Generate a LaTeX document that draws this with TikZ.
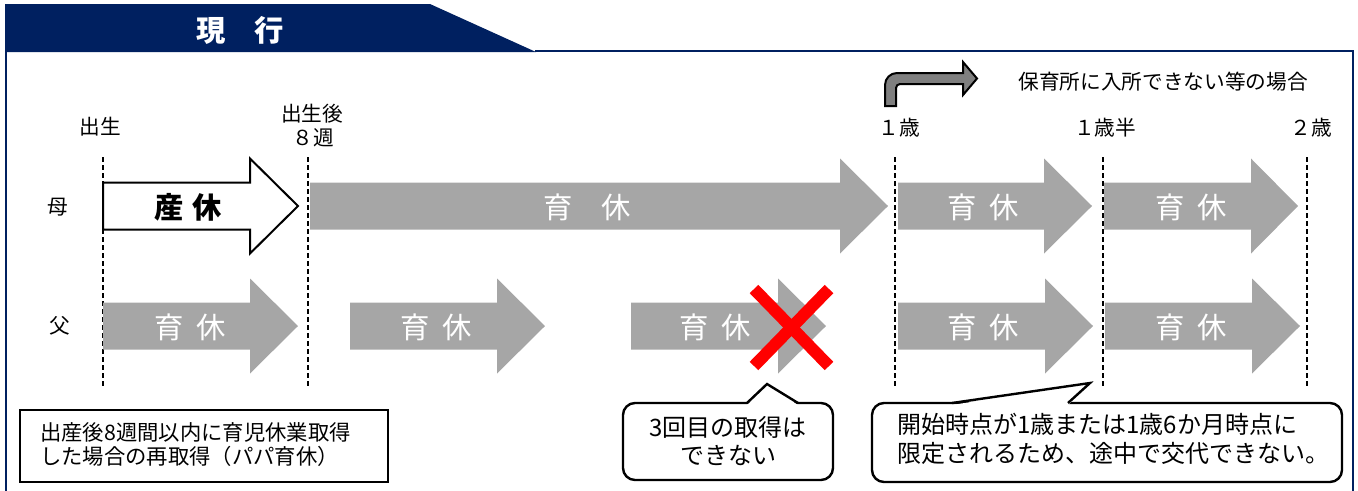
\documentclass[tikz,border=0pt]{standalone}
\usepackage{fontspec}
\setmainfont{Noto Sans CJK JP}
\definecolor{navy}{RGB}{0,32,96}
\definecolor{arrgray}{RGB}{166,166,166}
\definecolor{bentgray}{RGB}{127,127,127}
\newcommand\myarrow[5][]{\path[#1] (#2,#5-23.5) -- (#3,#5-23.5) -- (#3,#5-47.5) -- (#4,#5) -- (#3,#5+47.5) -- (#3,#5+23.5) -- (#2,#5+23.5) -- cycle;}
\begin{document}
\begin{tikzpicture}[x=0.75pt,y=-0.75pt,
  lbl/.style={font=\fontsize{15.5}{18}\selectfont, inner sep=0pt},
  arrtxt/.style={font=\fontsize{22}{26}\selectfont, text=white, inner sep=0pt},
  grayarrow/.style={fill=arrgray},
  vline/.style={dash pattern=on 3.75pt off 2.25pt, line width=0.8pt},
  callout/.style={draw, line width=1.8pt, fill=white, rounded corners=9pt},
  ctext/.style={font=\fontsize{18}{21.5}\selectfont, inner sep=0pt},
  btext/.style={font=\fontsize{16}{18}\selectfont, inner sep=0pt, align=left}
]
\useasboundingbox (0,0) rectangle (1358,490);
% header band and frame
\fill[navy] (5,4) -- (430,4) -- (536,52) -- (5,52) -- cycle;
\draw[navy, line width=1.8pt] (6,50) -- (6,495);
\draw[navy, line width=1.8pt] (535,51) -- (1353,51) -- (1353,495);
\node[font=\fontsize{22}{26}\selectfont\bfseries, text=white, inner sep=0pt] (title) at (240,30) {現　行};

% dashed guide lines
\foreach \xx/\nm in {103/a,308/b,895/c,1103/d,1307/e}{
  \coordinate (top\nm) at (\xx,157);
  \coordinate (bot\nm) at (\xx,386);
  \draw[vline] (top\nm) -- (bot\nm);
}

% time labels
\node[lbl] (birth) at (100,127) {出生};
\node[lbl] (after1) at (312,114) {出生後};
\node[lbl] (after2) at (313,138) {８週};
\node[lbl] (y1) at (899,128) {１歳};
\node[lbl] (y15) at (1105,128) {１歳半};
\node[lbl] (y2) at (1311,128) {２歳};
\node[lbl] (note) at (1163,82) {保育所に入所できない等の場合};
\node[lbl] (mother) at (58,207) {母};
\node[lbl] (father) at (60,326) {父};

% bent arrow
\draw[fill=bentgray, line width=1.5pt, line join=miter]
  (885,106) -- (885,85) arc (180:270:12) -- (963,73) -- (963,62) -- (977,78.5)
  -- (963,95) -- (963,84) -- (900,84) arc (270:180:4) -- (896,106) -- cycle;

% mother row
\myarrow[draw, fill=white, line width=1.5pt]{103}{250}{298}{206}
\myarrow[grayarrow]{310}{840}{888}{206}
\myarrow[grayarrow]{898}{1044}{1092}{206}
\myarrow[grayarrow]{1104}{1251}{1298}{206}
\node[font=\fontsize{22}{26}\selectfont\bfseries, inner sep=0pt] (m1) at (188,207) {産\hspace{0.3em}休};
\node[arrtxt] (m2) at (587,207) {育　休};
\node[arrtxt] (m3) at (983,207) {育\hspace{0.45em}休};
\node[arrtxt] (m4) at (1191,207) {育\hspace{0.45em}休};

% father row
\myarrow[grayarrow]{103}{250}{298}{326}
\myarrow[grayarrow]{350}{497}{545}{326}
\myarrow[grayarrow]{631}{778}{826}{326}
\myarrow[grayarrow]{898}{1045}{1093}{326}
\myarrow[grayarrow]{1105}{1252}{1300}{326}
\node[arrtxt] (f1) at (190,327) {育\hspace{0.45em}休};
\node[arrtxt] (f2) at (436,327) {育\hspace{0.45em}休};
\node[arrtxt] (f3) at (715,327) {育\hspace{0.45em}休};
\node[arrtxt] (f4) at (983,327) {育\hspace{0.45em}休};
\node[arrtxt] (f5) at (1191,327) {育\hspace{0.45em}休};

% red cross
\coordinate (xa) at (754,289);
\coordinate (xb) at (829,366);
\coordinate (xc) at (829,289);
\coordinate (xd) at (754,366);
\draw[red, line width=9pt] (xa) -- (xb);
\draw[red, line width=9pt] (xc) -- (xd);

% bottom-left box
\draw[line width=1.5pt] (20,410) rectangle (388,482);
\node[btext, anchor=west] (box) at (40,444.5) {出産後8週間以内に育児休業取得\\した場合の再取得（パパ育休）};

% callout 1
\path[callout] (623,403) rectangle (833,480);
\coordinate (c1l) at (747,403);
\coordinate (c1t) at (767,384);
\coordinate (c1r) at (798,403);
\fill[white] (747,405) -- (c1t) -- (798,405) -- cycle;
\draw[line width=1.8pt, line join=miter] (c1l) -- (c1t) -- (c1r);
\node[ctext, align=center] (c1) at (728,441) {3回目の取得は\\できない};

% callout 2
\path[callout] (872,403) rectangle (1342,482);
\coordinate (c2l) at (952,403);
\coordinate (c2t) at (1090,383);
\coordinate (c2r) at (1068,403);
\fill[white] (952,405) -- (c2t) -- (1068,405) -- cycle;
\draw[line width=1.8pt, line join=miter] (c2l) -- (c2t) -- (c2r);
\node[ctext, align=left, anchor=west] (c2) at (897,439) {開始時点が1歳または1歳6か月時点に\\限定されるため、途中で交代できない。};
\end{tikzpicture}
\end{document}
